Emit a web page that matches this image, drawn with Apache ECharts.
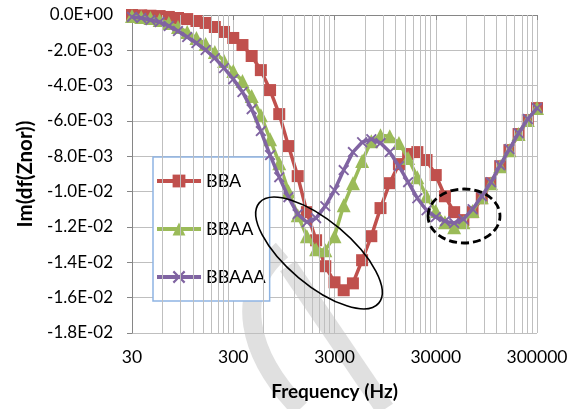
<!DOCTYPE html>
<html><head><meta charset="utf-8">
<script src="https://cdn.jsdelivr.net/npm/echarts@6/dist/echarts.min.js"></script>
<style>html,body{margin:0;padding:0;background:#fff}#c{width:579px;height:409px}</style>
</head><body><div id="c"></div>
<script>
// Frequencies (Hz), log-spaced
const freqs = [30, 37, 45.6, 56.2, 69.3, 85.4, 105.3, 129.9, 160.1, 197.4, 243.3, 300, 370, 456, 562, 693, 854, 1053, 1299, 1601, 1974, 2433, 3000, 3698, 4560, 5621, 6930, 8544, 10534, 12986, 16010, 19738, 24334, 30000, 36985, 45597, 56214, 69303, 85440, 105336, 129864, 160104, 197385, 243345, 300000];
const seriesNames = ['BBA', 'BBAA', 'BBAAA'];
const bba = [0, -0.00002, -0.00004, -0.00006, -0.00011, -0.00017, -0.00023, -0.00034, -0.00045, -0.00068, -0.00096, -0.00130, -0.00170, -0.00232, -0.00312, -0.00425, -0.00561, -0.00742, -0.00912, -0.01116, -0.01275, -0.01422, -0.01513, -0.01558, -0.01519, -0.01388, -0.01252, -0.01093, -0.00952, -0.00844, -0.00787, -0.00776, -0.00821, -0.00906, -0.01026, -0.01116, -0.01161, -0.01116, -0.01037, -0.00952, -0.00856, -0.00765, -0.00674, -0.00595, -0.00527];
const bbaa = [-0.00006, -0.00011, -0.00017, -0.00028, -0.00045, -0.00068, -0.00096, -0.00130, -0.00164, -0.00210, -0.00261, -0.00317, -0.00374, -0.00459, -0.00567, -0.00703, -0.00839, -0.00997, -0.01133, -0.01252, -0.01326, -0.01331, -0.01252, -0.01077, -0.00952, -0.00827, -0.00714, -0.00680, -0.00686, -0.00725, -0.00810, -0.00918, -0.01026, -0.01110, -0.01173, -0.01201, -0.01173, -0.01110, -0.01031, -0.00952, -0.00856, -0.00765, -0.00674, -0.00595, -0.00527];
const bbaaa = [-0.00011, -0.00017, -0.00028, -0.00040, -0.00062, -0.00091, -0.00125, -0.00159, -0.00198, -0.00244, -0.00300, -0.00363, -0.00436, -0.00533, -0.00657, -0.00793, -0.00918, -0.01031, -0.01127, -0.01173, -0.01150, -0.01082, -0.00992, -0.00878, -0.00776, -0.00720, -0.00703, -0.00725, -0.00776, -0.00856, -0.00946, -0.01037, -0.01105, -0.01144, -0.01167, -0.01178, -0.01156, -0.01099, -0.01026, -0.00946, -0.00850, -0.00759, -0.00669, -0.00589, -0.00527];
const xTickLabels = ['30', '300', '3000', '30000', '300000'];
const yMin = -0.018, yMax = 0, yStep = 0.002;

const F0 = 30;
const toX = f => Math.log10(f / F0);
const pairs = arr => arr.map((v, i) => [toX(freqs[i]), v]);

const minorLines = [];
for (let d = 0; d < 4; d++) for (let k = 2; k <= 9; k++) minorLines.push({ xAxis: d + Math.log10(k) });

function fmtE(v) {
  if (Math.abs(v) < 1e-12) return '0.0E+00';
  const p = v.toExponential(1).split('e');
  const e = parseInt(p[1], 10);
  return p[0] + 'E' + (e < 0 ? '-' : '+') + String(Math.abs(e)).padStart(2, '0');
}

const FONT = 'Lato';
const xMark = 'path://M0,1.2L1.2,0L5,3.8L8.8,0L10,1.2L6.2,5L10,8.8L8.8,10L5,6.2L1.2,10L0,8.8L3.8,5Z';

const chart = echarts.init(document.getElementById('c'), null, { renderer: 'canvas' });
chart.setOption({
  animation: false,
  backgroundColor: '#ffffff',
  textStyle: { fontFamily: FONT },
  grid: { left: 132, right: 42, top: 15, bottom: 76 },
  legend: {
    orient: 'vertical', left: 153, top: 157,
    padding: [15, 4, 15, 2],
    itemWidth: 44, itemHeight: 16, itemGap: 30, itemTextGap: 2,
    backgroundColor: '#fff', borderColor: '#8EB4E3', borderWidth: 1.5,
    lineStyle: { width: 4 },
    textStyle: { fontFamily: FONT, fontSize: 18, color: '#000' },
    data: seriesNames
  },
  xAxis: {
    type: 'value', min: 0, max: 4, interval: 1,
    axisLine: { lineStyle: { color: '#868686', width: 1 } },
    axisTick: { show: true, length: 5, lineStyle: { color: '#868686' } },
    axisLabel: { fontFamily: FONT, fontSize: 17.5, color: '#000', margin: 15,
      formatter: v => xTickLabels[Math.round(v)] || '' },
    splitLine: { show: true, lineStyle: { color: '#BFBFBF', width: 1 } },
    name: 'Frequency (Hz)', nameLocation: 'middle', nameGap: 49,
    nameTextStyle: { fontFamily: FONT, fontSize: 19, fontWeight: 'bold', color: '#000' }
  },
  yAxis: {
    type: 'value', min: yMin, max: yMax, interval: yStep,
    axisLine: { show: true, lineStyle: { color: '#868686', width: 1 } },
    axisTick: { show: true, length: 5, lineStyle: { color: '#868686' } },
    axisLabel: { fontFamily: FONT, fontSize: 17, color: '#000', margin: 19, formatter: fmtE },
    splitLine: { show: true, lineStyle: { color: '#BFBFBF', width: 1 } },
    name: 'Im(df(Znor))', nameLocation: 'middle', nameGap: 96,
    nameTextStyle: { fontFamily: FONT, fontSize: 20.5, fontWeight: 'bold', color: '#000' }
  },
  series: [
    { type: 'line', name: '_minor', data: [], silent: true, z: 1,
      markLine: { silent: true, symbol: 'none', label: { show: false },
        lineStyle: { color: '#BFBFBF', width: 1, type: 'solid' }, data: minorLines } },
    { type: 'line', name: seriesNames[0], data: pairs(bba), z: 3,
      symbol: 'rect', symbolSize: 12, color: '#C0504D',
      lineStyle: { width: 3.5, color: '#C0504D' }, itemStyle: { color: '#C0504D' } },
    { type: 'line', name: seriesNames[1], data: pairs(bbaa), z: 4,
      symbol: 'triangle', symbolSize: 14, color: '#9BBB59',
      lineStyle: { width: 3.5, color: '#9BBB59' }, itemStyle: { color: '#9BBB59' } },
    { type: 'line', name: seriesNames[2], data: pairs(bbaaa), z: 5,
      symbol: xMark, symbolSize: 11, color: '#8064A2',
      lineStyle: { width: 3.5, color: '#8064A2' }, itemStyle: { color: '#8064A2' } }
  ],
  graphic: [
    { type: 'bezierCurve', z: -10, silent: true,
      shape: { x1: 282, y1: 250, cpx1: 232, cpy1: 292, cpx2: 248, cpy2: 355, x2: 300, y2: 409 },
      style: { stroke: '#E0E0E0', lineWidth: 19, fill: null } },
    { type: 'line', z: -10, silent: true,
      shape: { x1: 288, y1: 266, x2: 385, y2: 409 },
      style: { stroke: '#E0E0E0', lineWidth: 19 } },
    { type: 'ellipse', z: 100, silent: true, x: 319, y: 253, rotation: -40 * Math.PI / 180,
      shape: { cx: 0, cy: 0, rx: 78, ry: 32 },
      style: { stroke: '#000', lineWidth: 1.6, fill: null } },
    { type: 'ellipse', z: 100, silent: true, x: 464, y: 216,
      shape: { cx: 0, cy: 0, rx: 36, ry: 27 },
      style: { stroke: '#000', lineWidth: 2.8, fill: null, lineDash: [8, 4] } }
  ]
});
</script></body></html>
